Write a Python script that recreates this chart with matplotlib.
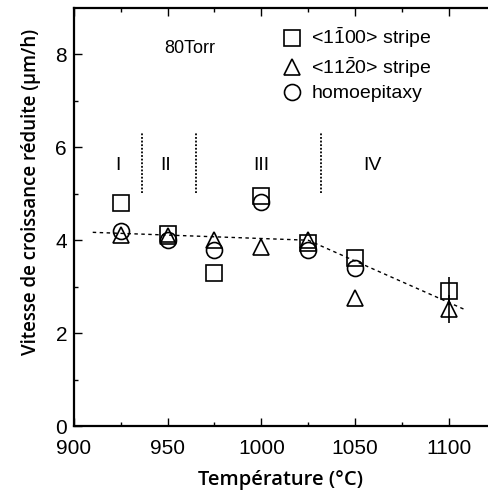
import matplotlib
matplotlib.use("Agg")
import matplotlib.pyplot as plt
from matplotlib.lines import Line2D

plt.rcParams['font.family'] = ['Liberation Sans', 'DejaVu Sans']
plt.rcParams['mathtext.fontset'] = 'custom'
plt.rcParams['mathtext.rm'] = 'Liberation Sans'

# data
temp_sq = [925, 950, 975, 1000, 1025, 1050, 1100]
rate_sq = [4.81, 4.13, 3.30, 4.95, 3.95, 3.62, 2.91]
err_sq = [0, 0, 0, 0, 0, 0, 0.3]

temp_tri = [925, 950, 975, 1000, 1025, 1050, 1100]
rate_tri = [4.12, 4.10, 4.00, 3.85, 4.00, 2.75, 2.52]
err_tri = [0, 0, 0, 0, 0, 0, 0.3]

temp_circ = [925, 950, 975, 1000, 1025, 1050]
rate_circ = [4.20, 4.00, 3.78, 4.82, 3.80, 3.40]

fit_t = [910, 1025, 1109]
fit_v = [4.17, 4.00, 2.50]

region_bounds = [936.5, 965, 1032]
region_names = ['I', 'II', 'III', 'IV']
region_pos = [923.5, 949, 1000, 1059.5]

fig = plt.figure(figsize=(4.88, 4.94), dpi=100)
ax = fig.add_axes([74/488, 1-426/494, 414/488, 418/494])

ms = 11.5
ax.plot(fit_t, fit_v, 'k--', lw=1.0, dashes=(2.5, 2.5), zorder=1)
ax.errorbar(temp_sq, rate_sq, yerr=err_sq, fmt='s', ms=ms, mfc='none', mec='k',
            mew=1.2, ecolor='k', elinewidth=1.2, capsize=0, zorder=3)
ax.errorbar(temp_tri, rate_tri, yerr=err_tri, fmt='^', ms=ms, mfc='none', mec='k',
            mew=1.2, ecolor='k', elinewidth=1.2, capsize=0, zorder=3)
ax.plot(temp_circ, rate_circ, 'o', ms=ms, mfc='none', mec='k', mew=1.2, zorder=3)

for b in region_bounds:
    ax.plot([b, b], [5.02, 6.3], color='k', ls=(0, (1, 1)), lw=1.3)
for name, p in zip(region_names, region_pos):
    ax.text(p, 5.6, name, ha='center', va='center', fontsize=14)

ax.text(962, 8.12, '80Torr', ha='center', va='center', fontsize=13)

handles = [Line2D([], [], marker='s', ls='none', ms=ms, mfc='none', mec='k', mew=1.2),
           Line2D([], [], marker='^', ls='none', ms=ms, mfc='none', mec='k', mew=1.2),
           Line2D([], [], marker='o', ls='none', ms=ms, mfc='none', mec='k', mew=1.2)]
labels = [r'<1$\mathrm{\bar{1}}$00> stripe', r'<11$\mathrm{\bar{2}}$0> stripe', 'homoepitaxy']
ax.legend(handles, labels, loc='upper left', bbox_to_anchor=(0.47, 0.99), frameon=False,
          fontsize=14, handlelength=1.0, handletextpad=0.5, labelspacing=0.25,
          borderaxespad=0.3)

ax.set_xlim(900, 1121)
ax.set_ylim(0, 9)
ax.set_xticks([900, 950, 1000, 1050, 1100])
ax.set_xticks([925, 975, 1025, 1075], minor=True)
ax.set_yticks([0, 2, 4, 6, 8])
ax.set_yticks([1, 3, 5, 7], minor=True)
ax.tick_params(which='both', direction='in', top=True, labelsize=15, width=1)
ax.tick_params(which='major', length=6)
ax.tick_params(which='minor', length=3)
ax.tick_params(axis='x', pad=9)
ax.tick_params(axis='y', pad=5)
for s in ['left', 'bottom', 'top']:
    ax.spines[s].set_linewidth(1.6)
ax.spines['right'].set_visible(False)

ax.set_xlabel('Température (°C)', fontsize=14.5, fontfamily='Open Sans',
              fontweight='semibold', labelpad=9)
ax.set_ylabel('Vitesse de croissance réduite (µm/h)', fontsize=13.5,
              fontfamily='Open Sans', fontweight='semibold')
ax.yaxis.set_label_coords(-0.08, 0.56)

fig.savefig('out.png', dpi=100)
